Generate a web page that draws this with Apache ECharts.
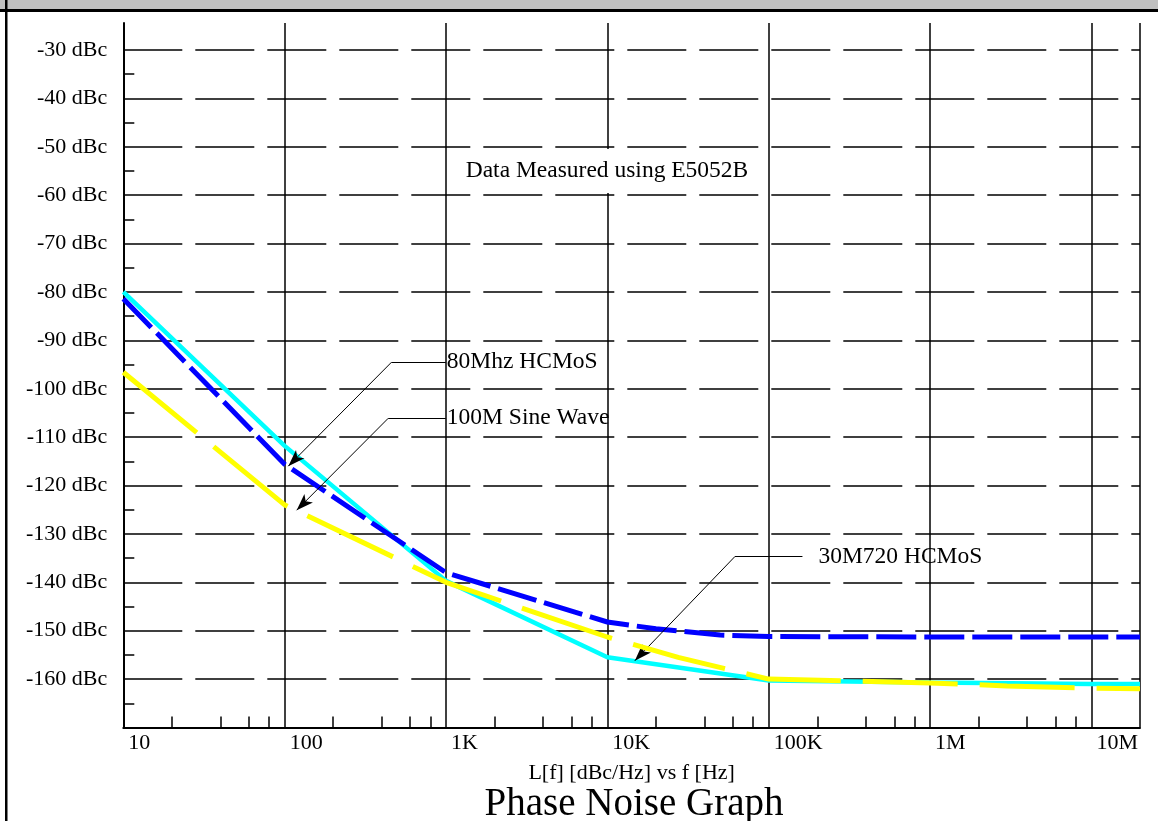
<!DOCTYPE html>
<html><head><meta charset="utf-8">
<script src="https://cdn.jsdelivr.net/npm/echarts@6/dist/echarts.min.js"></script>
<style>html,body{margin:0;padding:0;background:#fff}#c{width:1158px;height:821px}</style>
</head><body><div id="c"></div>
<script>
// ---- data ----
const freq30M720 = [10, 100, 1000, 10000, 100000, 1000000, 10000000, 20000000];
const pn30M720   = [-80, -111.8, -139.7, -155.5, -160.3, -160.7, -161, -161];

const freq80M = [10, 100, 1000, 10000, 20000, 50000, 100000, 1000000, 10000000, 20000000];
const pn80M   = [-81.4, -115.6, -138, -148.2, -149.6, -150.9, -151.2, -151.3, -151.3, -151.3];

const freq100M = [10, 100, 1000, 10000, 27500, 100000, 1000000, 3000000, 10000000, 20000000];
const pn100M   = [-96.6, -124, -140, -151.3, -155.5, -160, -160.8, -161.4, -161.9, -162];

const yTickValues = [-160, -150, -140, -130, -120, -110, -100, -90, -80, -70, -60, -50, -40, -30];
const yMinorTicks = [-165, -155, -145, -135, -125, -115, -105, -95, -85, -75, -65, -55, -45, -35];
const xTickLabels = {10: '10', 100: '100', 1000: '1K', 10000: '10K', 100000: '100K', 1000000: '1M', 10000000: '10M'};
const xMinorTicks = [20, 40, 60, 80, 200, 400, 600, 800, 2000, 4000, 6000, 8000,
  20000, 40000, 60000, 80000, 200000, 400000, 600000, 800000,
  2000000, 4000000, 6000000, 8000000];

// callouts: tip [freq, dBc], knee [freq, dBc], end freq, label
const callout80M   = {tip: [105.3, -116.0], knee: [460, -94.5], end: 997, text: '80Mhz HCMoS', gap: 1};
const callout100M  = {tip: [118.7, -125.1], knee: [438.5, -106.1], end: 997, text: '100M Sine Wave', gap: 1};
const callout30M   = {tip: [14800, -156.2], knee: [61600, -134.7], end: 161800, text: '30M720 HCMoS', gap: 16};

const FONT = 'Liberation Serif';
const pairs = (xs, ys) => xs.map((x, i) => [x, ys[i]]);

function calloutLines(c) {
  return [
    [{coord: c.knee, symbol: 'none'}, {coord: c.tip, symbol: 'arrow', symbolSize: [9, 17]}],
    [{coord: c.knee, symbol: 'none'},
     {coord: [c.end, c.knee[1]], symbol: 'none',
      label: {show: true, position: 'end', formatter: c.text, distance: c.gap,
              fontFamily: FONT, fontSize: 23.5, color: '#000'}}]
  ];
}

const chart = echarts.init(document.getElementById('c'), null, {renderer: 'canvas'});
chart.setOption({
  animation: false,
  backgroundColor: '#fff',
  grid: {left: 123.3, right: 18, top: 22.9, bottom: 93.5, containLabel: false},
  xAxis: [{
    type: 'log', logBase: 10, min: 10, max: 20000000, position: 'bottom',
    axisLine: {show: true, lineStyle: {color: '#000', width: 2}},
    axisTick: {show: false},
    splitLine: {show: true, lineStyle: {color: '#000', width: 1.5, type: 'solid'}},
    axisLabel: {
      formatter: v => xTickLabels[Math.round(v)] || '',
      align: 'left', padding: [0, 0, 0, 5], margin: 5,
      fontFamily: FONT, fontSize: 22, color: '#000'
    },
    name: 'L[f] [dBc/Hz] vs f [Hz]', nameLocation: 'middle', nameGap: 35,
    nameTextStyle: {fontFamily: FONT, fontSize: 22, color: '#000'}
  }, {
    type: 'value', min: 1, max: Math.log10(20000000), position: 'bottom',
    axisLine: {show: false}, splitLine: {show: false}, axisLabel: {show: false},
    axisTick: {show: true, inside: true, length: 11, customValues: xMinorTicks.map(v => Math.log10(v)),
               lineStyle: {color: '#000', width: 1.5}}
  }],
  yAxis: [{
    type: 'value', min: -170, max: -24.4, interval: 10, position: 'left',
    axisLine: {show: true, lineStyle: {color: '#000', width: 2}},
    axisTick: {show: false, customValues: yTickValues},
    splitLine: {show: true, lineStyle: {color: '#000', width: 1.5, type: [59, 13]}},
    axisLabel: {customValues: yTickValues, formatter: v => v + ' dBc', margin: 16,
                fontFamily: FONT, fontSize: 22, color: '#000'}
  }, {
    type: 'value', min: -170, max: -24.4, position: 'left',
    axisLine: {show: false}, splitLine: {show: false}, axisLabel: {show: false},
    axisTick: {show: true, inside: true, length: 11, customValues: yMinorTicks,
               lineStyle: {color: '#000', width: 1.5}}
  }],
  series: [{
    name: '30M720 HCMoS', type: 'line', xAxisIndex: 0, yAxisIndex: 0,
    data: pairs(freq30M720, pn30M720), symbol: 'none', smooth: false,
    lineStyle: {color: '#00ffff', width: 4.5, type: 'solid'}, z: 3,
    markLine: {silent: true, animation: false, symbol: ['none', 'none'],
      lineStyle: {color: '#000', width: 1, type: 'solid'}, label: {show: false},
      data: [].concat(calloutLines(callout80M), calloutLines(callout100M), calloutLines(callout30M))}
  }, {
    name: '80Mhz HCMoS', type: 'line', xAxisIndex: 0, yAxisIndex: 0,
    data: pairs(freq80M, pn80M), symbol: 'none', smooth: false,
    lineStyle: {color: '#0000ff', width: 5, type: [40, 8]}, z: 4
  }, {
    name: '100M Sine Wave', type: 'line', xAxisIndex: 0, yAxisIndex: 0,
    data: pairs(freq100M, pn100M), symbol: 'none', smooth: false,
    lineStyle: {color: '#ffff00', width: 5, type: [95, 22]}, z: 5
  }],
  graphic: [
    {type: 'rect', shape: {x: 0, y: 0, width: 1158, height: 9}, style: {fill: '#c0c0c0'}, z: 100},
    {type: 'rect', shape: {x: 0, y: 9, width: 1158, height: 3}, style: {fill: '#000'}, z: 101},
    {type: 'rect', shape: {x: 5, y: 0, width: 2.5, height: 821}, style: {fill: '#000'}, z: 101},
    {type: 'rect', shape: {x: 449, y: 149, width: 318, height: 44}, style: {fill: '#fff'}, z: 50},
    {type: 'text', x: 607, y: 171, z: 51,
     style: {text: 'Data Measured using E5052B', fill: '#000', font: '23.5px "Liberation Serif"',
             textAlign: 'center', textVerticalAlign: 'middle'}},
    {type: 'text', x: 634, y: 805, z: 51,
     style: {text: 'Phase Noise Graph', fill: '#000', font: '39px "Liberation Serif"',
             textAlign: 'center', textVerticalAlign: 'middle'}}
  ]
});
</script></body></html>
